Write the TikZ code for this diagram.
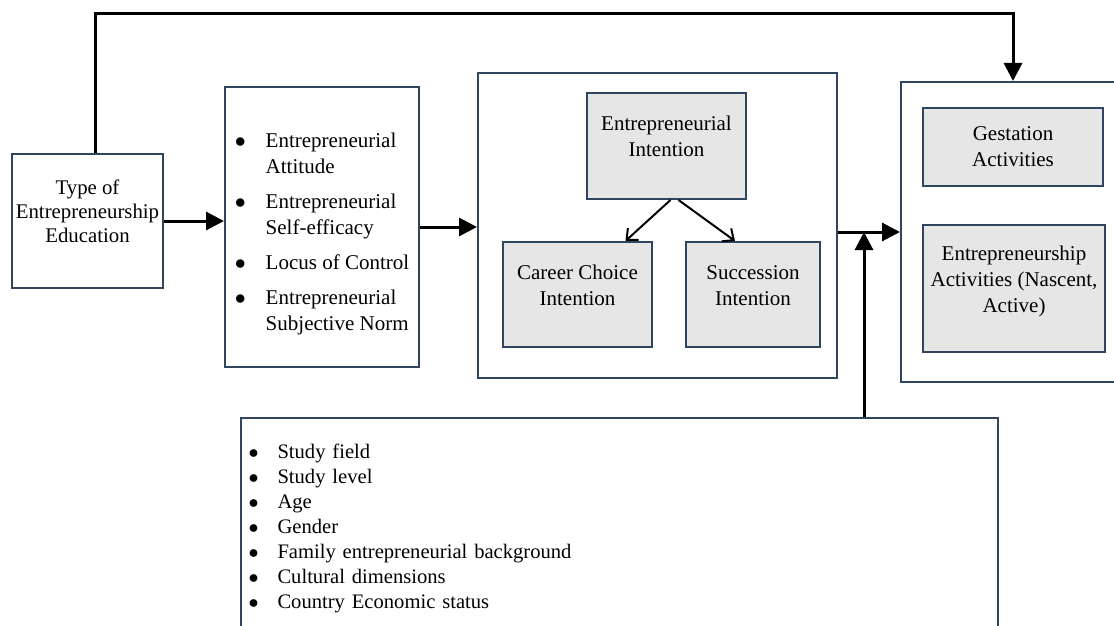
\documentclass[tikz,border=0pt]{standalone}
\usepackage{fontspec}
\setmainfont{Liberation Serif}
\usetikzlibrary{arrows.meta,positioning}
\definecolor{boxline}{HTML}{2F4560}
\definecolor{boxfill}{HTML}{E6E6E6}
\newcommand{\blt}{$\bullet$}
\tikzstyle{container}=[rectangle,draw=boxline,line width=1pt,inner sep=0pt,align=center]
\tikzstyle{construct}=[rectangle,draw=boxline,line width=1pt,fill=boxfill,inner sep=0pt,align=center]
\tikzstyle{flow}=[line width=1.5pt,-{Triangle[length=9pt,width=9pt]}]
\tikzstyle{branch}=[line width=1pt,-{Straight Barb[length=4.5pt,width=8pt,line width=1pt]}]

\begin{document}
\begin{tikzpicture}[x=0.5pt,y=-0.5pt,font=\fontsize{10.5}{13}\selectfont]
    \useasboundingbox (0,0) rectangle (1114,626);

    \node[container,minimum width=75.5pt,minimum height=67pt,font=\fontsize{10.4}{12}\selectfont] (edu) at (87.5,221) {Type of\\Entrepreneurship\\Education\\[-2pt]};
    \node[container,minimum width=97pt,minimum height=140pt] (attr) at (322,227) {%
        \begin{tabular}{@{}l@{\hspace{10pt}}l@{}}
        \noalign{\vskip 7pt}
        \blt & Entrepreneurial\\
             & Attitude\\[4.5pt]
        \blt & Entrepreneurial\\
             & Self-efficacy\\[4.5pt]
        \blt & Locus of Control\\[4.5pt]
        \blt & Entrepreneurial\\
             & Subjective Norm
        \end{tabular}};

    % intention block
    \node[container,minimum width=179.5pt,minimum height=152.5pt] (mid) at (657.5,225.5) {};
    \node[construct,minimum width=79.5pt,minimum height=53pt] (ei) at (666.5,146) {Entrepreneurial\\Intention\\[-3.5pt]};
    \node[construct,minimum width=74.5pt,minimum height=52.5pt] (cci) at (577.5,294.5) {Career Choice\\Intention\\[-4pt]};
    \node[construct,minimum width=67pt,minimum height=52.5pt] (sci) at (753,294.5) {Succession\\Intention\\[-4pt]};

    % outcome block
    \node[container,minimum width=112pt,minimum height=150pt] (out) at (1013,232) {};
    \node[construct,minimum width=90pt,minimum height=39pt] (gest) at (1013,147) {Gestation\\Activities};
    \node[construct,minimum width=91pt,minimum height=63.5pt] (act) at (1014,288.5) {Entrepreneurship\\Activities (Nascent,\\Active)\\[-4pt]};

    % moderators
    \node[container,minimum width=378.5pt,minimum height=110pt,inner xsep=3.75pt,text width=371pt,align=left,font=\fontsize{10.3}{12.5}\selectfont] (ctrl) at (619.5,528) {%
        \begin{tabular}{@{}l@{\hspace{9.5pt}}l@{}}
        \blt & Study field\\
        \blt & Study level\\
        \blt & Age\\
        \blt & Gender\\
        \blt & Family entrepreneurial background\\
        \blt & Cultural dimensions\\
        \blt & Country Economic status
        \end{tabular}};

    \coordinate (top) at (0,14);
    \coordinate (join) at (864,232);

    \draw[flow] (edu.east) -- (edu.east -| attr.west);
    \draw[flow] (attr.east) -- (attr.east -| mid.west);
    \draw[flow] (mid.east |- out.west) -- (out.west);
    \draw[flow] (join |- ctrl.north) -- (join);
    \draw[flow] ([xshift=4pt]edu.north) |- (out.north |- top) -- (out.north);

    \draw[branch] ([xshift=2pt]ei.south) -- ([xshift=24pt]cci.north);
    \draw[branch] ([xshift=6pt]ei.south) -- ([xshift=-9pt]sci.north);
\end{tikzpicture}
\end{document}
